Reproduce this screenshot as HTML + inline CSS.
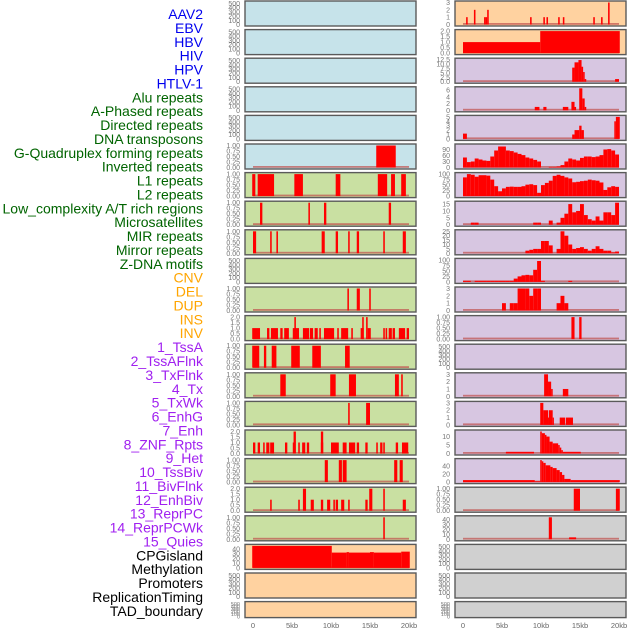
<!DOCTYPE html>
<html><head><meta charset="utf-8"><style>
html,body{margin:0;padding:0;background:#fff;}
svg{display:block;font-family:"Liberation Sans",sans-serif;}
</style></head><body>
<svg id="chart" width="630" height="630" viewBox="0 0 630 630"></svg>
<script>
// ---- data ----
const trackLabels = ["AAV2","EBV","HBV","HIV","HPV","HTLV-1","Alu repeats","A-Phased repeats","Directed repeats","DNA transposons","G-Quadruplex forming repeats","Inverted repeats","L1 repeats","L2 repeats","Low_complexity A/T rich regions","Microsatellites","MIR repeats","Mirror repeats","Z-DNA motifs","CNV","DEL","DUP","INS","INV","1_TssA","2_TssAFlnk","3_TxFlnk","4_Tx","5_TxWk","6_EnhG","7_Enh","8_ZNF_Rpts","9_Het","10_TssBiv","11_BivFlnk","12_EnhBiv","13_ReprPC","14_ReprPCWk","15_Quies","CPGisland","Methylation","Promoters","ReplicationTiming","TAD_boundary"];
const labelGroups = [6,13,5,15,5]; // blue, green, orange, purple, black
const groupColors = ["#0000ee","#006400","#ffa500","#a020f0","#000000"];
const xTickLabels = ["0","5kb","10kb","15kb","20kb"];
const xTickValues = [0,5,10,15,20];

const T500 = ["0","100","200","300","400","500"];
const T1 = ["0.00","0.25","0.50","0.75","1.00"];
const T2 = ["0.0","0.5","1.0","1.5","2.0"];

// left column segments [startKb, endKb, value]
const L5 = [[15.8,18.3,1]];
const L6 = [[-0.1,0.3,1],[0.6,2.7,1],[5.3,6.4,1],[10.6,11.2,1],[16,17.2,1],[17.7,18.2,1],[19,19.6,1]];
const L7 = [[0.9,1.2,1],[7.1,7.3,1],[9.1,9.4,1],[17.4,17.7,1]];
const L8 = [[0,0.4,1],[2.2,2.4,1],[3,3.2,1],[8.8,9.2,1],[10.6,10.9,1],[12.2,12.4,1],[13.3,13.6,1],[16.7,16.9,1],[19.2,19.6,1]];
const L10 = [[12.1,12.3,1],[13.3,13.7,1],[14.9,15.1,1]];
const L11 = [[-0.1,0.9,1],[1.8,2.1,1],[2.3,3.2,1],[3.5,3.8,1],[4,4.6,1],[5.1,5.9,1],[6.4,7.2,1],[7.3,7.7,1],[7.9,8.3,1],[8.5,8.7,1],[9.1,10.4,1],[10.8,11,1],[11.3,12.2,1],[12.6,12.8,1],[13.8,14.2,1],[14.7,15.1,1],[16.7,16.9,1],[17,17.2,1],[17.4,17.8,1],[17.9,18.2,1],[18.7,19.5,1],[19.7,20,1],[5.3,5.5,2],[14,14.2,2],[14.5,14.7,2]];
const L12 = [[-0.1,0.8,1],[1.4,1.7,1],[2.4,3,1],[4.9,6,1],[7.6,8.7,1],[11.8,12.4,1]];
const L13 = [[3.5,4.2,1],[9.9,10.6,1],[12.3,13.2,1],[18.2,18.7,1],[19,19.2,1]];
const L14 = [[12.2,12.4,1],[14.5,15,1]];
const L15 = [[0,0.3,1],[0.6,0.9,1],[1.3,1.5,1],[1.7,2.1,1],[2.2,2.7,1],[4.1,4.4,1],[5.1,5.4,1],[5.8,6,1],[6.3,6.7,1],[6.9,7.2,1],[8.7,9,1],[10,11,1],[11.5,12,1],[12.3,13.1,1],[13.3,13.6,1],[14.4,14.7,1],[15.8,16,1],[16.3,16.6,1],[16.7,16.9,1],[18.3,18.6,1],[19.1,19.9,1],[5.2,5.5,2],[8.7,9,2]];
const L16 = [[9.2,9.6,1],[11,11.4,1],[11.5,12,1],[18.1,18.5,1],[18.8,19.2,1]];
const L17 = [[2.2,2.4,1],[5.8,6,1],[7.4,7.8,1],[8.7,9,1],[9.5,9.9,1],[10.3,10.5,1],[10.6,10.9,1],[11.3,11.7,1],[12.2,12.4,1],[14.4,14.7,1],[19.2,19.6,1],[6.4,6.8,2],[14.9,15.3,2],[16.7,16.9,2]];
const L18 = [[16.7,16.9,1]];
const L19 = [[-0.1,10.1,46],[10.1,12,32],[12,12.3,33],[12.3,15,32],[15,15.5,33],[15.5,19,32],[19,20.1,34]];

// right column segments
const R0 = [[0.4,0.6,1],[2.7,2.9,1],[2.9,3.1,1],[8.6,8.8,1],[10.3,10.5,1],[10.7,10.9,1],[12.2,12.4,1],[12.8,13,1],[16.7,16.9,1],[17.7,17.9,1],[1.4,1.6,2],[3.1,3.3,2],[18.6,18.8,3]];
const R1 = [[0,9.9,1],[9.9,20.1,2]];
const R2 = [[14,14.3,8],[14.3,14.8,11],[14.8,15.2,12.3],[15.2,15.4,8.5],[15.4,15.6,5.5],[15.6,15.8,1.5],[19.5,20,1.5]];
const R3 = [[9.2,9.8,1],[10.3,10.7,1],[12.8,13.5,1],[13.9,14.3,2.5],[14.3,14.5,1],[14.9,15.3,6.5],[15.3,15.6,3.5],[15.6,15.8,1]];
const R4 = [[0,0.5,1.2],[14,14.3,1],[14.3,14.9,2],[14.9,15.2,3],[15.2,15.5,2],[19.4,19.6,4],[19.6,20.1,5]];
// histogram tracks: 40 bins of 0.5kb
const R5 = [50,27,30,45,40,35,33,55,85,105,105,85,82,75,68,62,50,45,38,30,0,0,3,3,5,12,30,45,40,35,48,55,55,52,55,62,90,92,85,65];
const R6 = [85,100,97,88,95,95,93,75,45,22,35,42,43,42,42,45,52,54,50,15,50,60,70,92,97,92,85,80,63,65,68,70,75,72,70,62,28,40,45,42];
const R7 = [0,0,1.5,1.5,0,0,0,0,0,0,0,0,0,0,0,0,0,0,1.5,1.5,0,0,3,0,1.5,5,8,15,9,10,15,7,4,3,6,3,9,9,7,16];
const R8 = [0,0,0,0,0,0,0,0,0,0,0,0,0,0,0,0,3,4,5,5,14,14,9,0,5,25,20,10,5,6,7,5,3,5,8,5,3,3,1,2];
const R9 = [5,5,0,5,5,5,5,5,5,5,5,5,5,15,25,30,32,30,55,95,5,0,0,0,0,0,0,5,0,0,0,0,0,0,0,0,0,0,0,0];
const R10 = [0,0,0,0,0,0,0,0,0,0,1,0,1,1,3,3,3,2,3,3,0,0,0,0,1,2,1,0,0,0,0,0,0,0,0,0,0,0,0,0];
const R11 = [[13.9,14.3,1],[14.9,15.2,1]];
const R13 = [[10.4,10.9,3],[10.9,11.3,2],[11.3,11.5,1],[12.8,13.5,1]];
const R14 = [[9.9,10.3,3],[10.3,10.9,2],[10.9,11,1],[11,11.5,2],[11.5,11.6,1],[12.4,13.1,1],[13.2,14.1,1]];
const R15 = [[5.5,9.1,1],[9.9,10.1,13],[10.1,10.5,12],[10.5,10.7,11],[10.7,11.1,10],[11.1,11.5,7],[11.5,12.2,6],[12.2,12.4,5],[12.4,12.6,3.5],[12.6,12.8,2],[12.8,15.1,1]];
const R16 = [[0,9.2,5],[9.2,9.9,2],[9.9,10.1,55],[10.1,10.3,52],[10.3,10.6,48],[10.6,11.2,42],[11.2,11.5,38],[11.5,12,35],[12,12.4,30],[12.4,12.7,25],[12.7,13,18],[13,13.8,8],[13.8,20.1,5]];
const R17 = [[14.2,15,1],[19.6,20.1,1]];
const R18 = [[11,11.4,45],[13.6,14.5,4]];

function hist(vals){ return vals.map((v,i)=>[i*0.5,(i+1)*0.5,v]); }

const BLUE="#c6e3ea", GREEN="#c9e0a2", ORANGE="#ffd2a0", PURPLE="#d7c6e1", GREY="#d0d0d0";
const leftPanels = [
 [BLUE,T500,520,null],[BLUE,T500,520,null],[BLUE,T500,520,null],[BLUE,T500,520,null],[BLUE,T500,520,null],
 [BLUE,T1,1,L5],[GREEN,T1,1,L6],[GREEN,T1,1,L7],[GREEN,T1,1,L8],[GREEN,T500,520,null],
 [GREEN,T1,1,L10],[GREEN,T2,2,L11],[GREEN,T1,1,L12],[GREEN,T1,1,L13],[GREEN,T1,1,L14],
 [GREEN,T2,2,L15],[GREEN,T1,1,L16],[GREEN,T2,2,L17],[GREEN,T1,1,L18],
 [ORANGE,["0","10","20","30","40"],46,L19],[ORANGE,T500,520,null],[ORANGE,T500,520,null]
];
const rightPanels = [
 [ORANGE,["0","1","2","3"],3,R0],[ORANGE,T2,2,R1],[PURPLE,["0.0","2.5","5.0","7.5","10.0","12.5"],12.5,R2],
 [PURPLE,["0","2","4","6"],6.5,R3],[PURPLE,["0","1","2","3","4","5"],5,R4],
 [PURPLE,["0","30","60","90"],110,hist(R5)],[PURPLE,["0","25","50","75","100"],100,hist(R6)],
 [PURPLE,["0","5","10","15"],16,hist(R7)],[PURPLE,["0","5","10","15","20","25"],25,hist(R8)],
 [PURPLE,["0","25","50","75","100"],100,hist(R9)],[PURPLE,["0","1","2","3"],3,hist(R10)],
 [PURPLE,T1,1,R11],[PURPLE,T500,520,null],[PURPLE,["0","1","2","3"],3,R13],[PURPLE,["0","1","2","3"],3,R14],
 [PURPLE,["0","5","10"],13,R15],[PURPLE,["0","20","40"],55,R16],
 [GREY,T1,1,R17],[GREY,["0","10","20","30","40"],45,R18],[GREY,T500,520,null],[GREY,T500,520,null],[GREY,T500,520,null]
];

// ---- drawing ----
const NS="http://www.w3.org/2000/svg";
const svg=document.getElementById('chart');
function mk(tag,attrs,parent){const e=document.createElementNS(NS,tag);for(const k in attrs)e.setAttribute(k,attrs[k]);(parent||svg).appendChild(e);return e;}

// labels
let gi=0,cnt=0;
trackLabels.forEach((t,i)=>{
  while(cnt>=labelGroups[gi]){cnt-=labelGroups[gi];gi++;}
  const el=mk('text',{x:203,y:14+i*13.88+5,'text-anchor':'end','font-size':'14',fill:groupColors[gi]});
  el.textContent=t;
  
  
  cnt++;
});

function drawPanel(cfg,px,py,h,idx,side){
  const [bg,ticks,ymax,segs]=cfg;
  const g=mk('g',{});
  
  
  const xs=kb=>px+8+kb*7.8;
  const ys=v=>py+h-1.5-v/ymax*(h-3);
  mk('rect',{x:px,y:py,width:171,height:h,fill:bg,stroke:'#5a5a5a','stroke-width':1.4},g);
  ticks.forEach(t=>{
    const tv=parseFloat(t);
    const el=mk('text',{x:px-5,y:ys(tv)+2.5,'text-anchor':'end','font-size':h<20?'5.5':'7',fill:'#777'},g);
    el.textContent=t;
    
    
  });
  if(segs){
    const b=mk('rect',{x:xs(0),y:ys(0)-1.5,width:xs(20)-xs(0),height:1.8,fill:'#c0504d',opacity:0.7},g);
    
    
    segs.forEach(s=>{
      if(s[2]<=0)return;
      const y0=ys(Math.min(s[2],ymax));
      const r=mk('rect',{x:xs(s[0]),y:y0,width:Math.max(xs(s[1])-xs(s[0]),1.2),height:ys(0)-y0,fill:'#ff0000'},g);
      
      
    });
  }
}
leftPanels.forEach((c,i)=>{const py=1+i*28.6;drawPanel(c,245,py,i===21?16:25,i,'left');});
rightPanels.forEach((c,i)=>{const py=1+i*28.6;drawPanel(c,455,py,i===21?16:25,i,'right');});

// x axes
[245,455].forEach(px=>{
  xTickValues.forEach((v,i)=>{
    const el=mk('text',{x:px+8+v*7.8,y:628,'text-anchor':'middle','font-size':'7.5',fill:'#666'});
    el.textContent=xTickLabels[i];
    
    
  });
});
</script>
</body></html>
